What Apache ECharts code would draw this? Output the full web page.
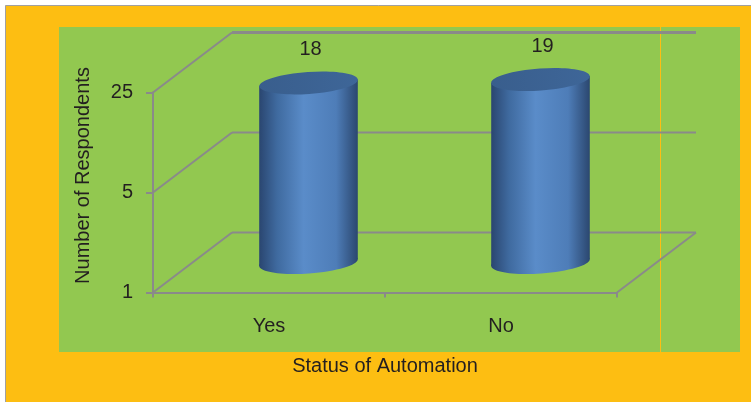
<!DOCTYPE html>
<html>
<head>
	<meta charset="utf-8">
	<title>Status of Automation</title>
	<script src="https://cdn.jsdelivr.net/npm/echarts@6/dist/echarts.min.js"></script>
	<style>
		html, body { margin: 0; padding: 0; background: #fff; }
		#chart { width: 751px; height: 402px; }
	</style>
</head>
<body>
<div id="chart"></div>
<script type="text/javascript">
// data
var categories = ['Yes', 'No'];
var respondents = [18, 19];
var yTicks = [1, 5, 25];

var font = '"Liberation Sans", Arial, sans-serif';
var textColor = '#231F20';
var gridColor = '#8A8A8A';
var depth = [79, -60];   // back wall offset of the 3d box
var tilt = 0.07;         // slight perspective tilt of the cylinder ends

// back wall + side lines, one per y tick
function renderFrame(params, api) {
	var cs = params.coordSys;
	var v = api.value(1);
	var y = api.coord([0, v])[1];
	var x0 = cs.x, x1 = cs.x + cs.width;
	var lw = v === yTicks[yTicks.length - 1] ? 3 : 2;
	var children = [
		{ type: 'line', shape: { x1: x0, y1: y, x2: x0 + depth[0], y2: y + depth[1] }, style: { stroke: gridColor, lineWidth: 2 } },
		{ type: 'line', shape: { x1: x0 + depth[0], y1: y + depth[1], x2: x1 + depth[0], y2: y + depth[1] }, style: { stroke: gridColor, lineWidth: lw } }
	];
	if (v === yTicks[0]) {
		children.push({ type: 'line', shape: { x1: x1, y1: y, x2: x1 + depth[0], y2: y + depth[1] }, style: { stroke: gridColor, lineWidth: 2 } });
	}
	return { type: 'group', children: children };
}

var bodyFill = {
	type: 'linear', x: 0, y: 0, x2: 1, y2: 0,
	colorStops: [
		{ offset: 0, color: '#2A4670' },
		{ offset: 0.18, color: '#3F6A9F' },
		{ offset: 0.45, color: '#5A8CC9' },
		{ offset: 0.78, color: '#4E7DB8' },
		{ offset: 1, color: '#2B476F' }
	]
};

function renderCylinder(params, api) {
	var i = api.value(0), v = api.value(1);
	var top = api.coord([i, v]);
	var base = api.coord([i, yTicks[0]]);
	var cx = top[0] + depth[0] / 2;
	var ty = top[1] + depth[1] / 2;
	var by = base[1] + depth[1] / 2;
	var rx = api.size([1, 0])[0] * 0.213;
	var ry = 11;
	var ex = rx * Math.cos(tilt), ey = rx * Math.sin(tilt);
	return {
		type: 'group',
		children: [
			{ type: 'ellipse', x: cx, y: by, rotation: tilt, shape: { cx: 0, cy: 0, rx: rx, ry: ry }, style: { fill: bodyFill } },
			{ type: 'polygon', shape: { points: [[cx - ex, ty + ey], [cx + ex, ty - ey], [cx + ex, by - ey], [cx - ex, by + ey]] }, style: { fill: bodyFill } },
			{ type: 'ellipse', x: cx, y: ty, rotation: tilt, shape: { cx: 0, cy: 0, rx: rx, ry: ry },
				style: { fill: { type: 'linear', x: 0, y: 0, x2: 1, y2: 0, colorStops: [{ offset: 0, color: '#395E8D' }, { offset: 1, color: '#3E6698' }] } } },
			{ type: 'text', x: cx + 2, y: ty - 33, style: { text: String(v), fontSize: 20, fontFamily: font, fill: textColor, align: 'center', verticalAlign: 'middle' } }
		]
	};
}

var option = {
	backgroundColor: '#fff',
	animation: false,
	graphic: [
		{ type: 'rect', z: -10, shape: { x: 5.5, y: 5.5, width: 760, height: 410 }, style: { fill: '#FDBE12', stroke: '#A0A0A0', lineWidth: 1 } },
		{ type: 'rect', z: -9, shape: { x: 59, y: 27, width: 681, height: 325 }, style: { fill: '#92C850' } },
		{ type: 'line', z: -8, shape: { x1: 660.5, y1: 27, x2: 660.5, y2: 352 }, style: { stroke: '#FDBE12', lineWidth: 1 } }
	],
	grid: { left: 153, top: 92.5, width: 464, height: 200 },
	xAxis: {
		type: 'category',
		data: categories,
		name: 'Status of Automation',
		nameLocation: 'middle',
		nameGap: 64,
		nameTextStyle: { fontSize: 20, fontFamily: font, color: textColor },
		axisLine: { lineStyle: { color: gridColor, width: 2 } },
		axisTick: { show: true, length: 5, lineStyle: { color: gridColor, width: 2 } },
		axisLabel: { fontSize: 20, fontFamily: font, color: textColor, margin: 24 }
	},
	yAxis: {
		type: 'log',
		logBase: 5,
		min: yTicks[0],
		max: yTicks[yTicks.length - 1],
		name: 'Number of Respondents',
		nameLocation: 'middle',
		nameGap: 60,
		nameTextStyle: { fontSize: 20, fontFamily: font, color: textColor, padding: [0, 0, 0, 34] },
		axisLine: { show: true, lineStyle: { color: gridColor, width: 2 } },
		axisTick: { show: true, length: 7, lineStyle: { color: gridColor, width: 2 } },
		axisLabel: { fontSize: 20, fontFamily: font, color: textColor, margin: 20 },
		minorTick: { show: false },
		splitLine: { show: false }
	},
	series: [
		{
			type: 'custom',
			clip: false,
			renderItem: renderFrame,
			data: yTicks.map(function (t) { return [0, t]; }),
			z: 1
		},
		{
			type: 'custom',
			clip: false,
			renderItem: renderCylinder,
			data: respondents.map(function (v, i) { return [i, v]; }),
			z: 3
		}
	]
};

var myChart = echarts.init(document.getElementById('chart'));
myChart.setOption(option, true);
</script>
</body>
</html>
